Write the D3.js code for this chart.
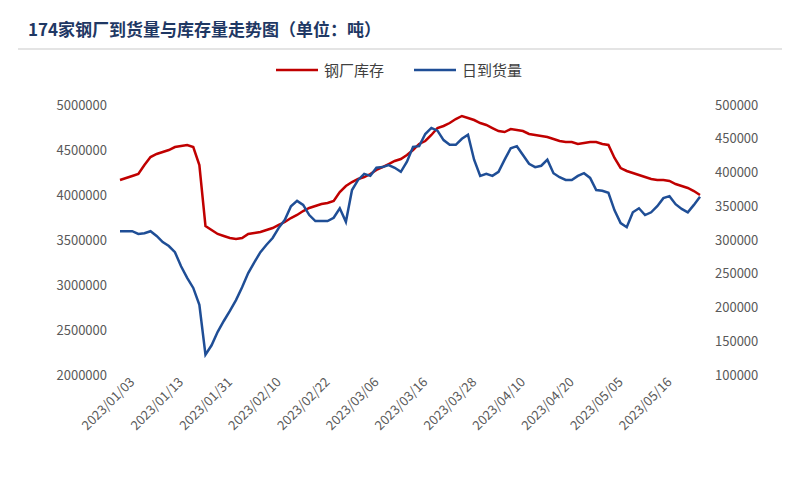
<!DOCTYPE html>
<html><head><meta charset="utf-8">
<script src="https://cdn.jsdelivr.net/npm/d3@7"></script>
<style>body{margin:0;background:#fff}text{font-family:"Noto Sans CJK SC","Liberation Sans",sans-serif}</style>
</head><body><svg id="c" width="800" height="500"></svg>
<script>
const title = "174家钢厂到货量与库存量走势图（单位：吨）";
const seriesNames = ["钢厂库存","日到货量"];
const tickLabels = ["2023/01/03","2023/01/13","2023/01/31","2023/02/10","2023/02/22","2023/03/06","2023/03/16","2023/03/28","2023/04/10","2023/04/20","2023/05/05","2023/05/16"];
// 钢厂库存 (吨, thousands)
const inventoryK = [4167,4189,4211,4233,4333,4422,4456,4478,4500,4533,4544,4556,4533,4333,3656,3611,3567,3544,3522,3511,3522,3567,3578,3589,3611,3633,3667,3700,3744,3778,3822,3856,3878,3900,3911,3933,4033,4100,4144,4178,4200,4233,4278,4311,4344,4378,4400,4444,4500,4567,4600,4667,4744,4767,4800,4844,4878,4856,4833,4800,4778,4744,4711,4700,4733,4722,4711,4678,4667,4656,4644,4622,4600,4589,4589,4567,4578,4589,4589,4567,4556,4411,4300,4267,4244,4222,4200,4178,4167,4167,4156,4122,4100,4078,4044,4000];
// 日到货量 (吨, thousands)
const arrivalK = [313,313,313,309,310,313,306,297,291,282,261,244,229,204,130,144,164,180,195,211,230,251,267,282,293,303,318,330,350,358,352,337,328,328,328,333,347,327,374,389,398,395,407,408,411,407,401,416,438,439,457,466,462,448,441,441,450,456,419,395,398,395,401,419,436,439,426,413,408,410,419,399,393,389,389,395,399,392,374,373,370,344,325,319,341,347,337,341,350,362,365,353,346,341,352,364];
const leftTicks = [2000000,2500000,3000000,3500000,4000000,4500000,5000000];
const rightTicks = [100000,150000,200000,250000,300000,350000,400000,450000,500000];

const svg = d3.select("#c");
svg.append("text").attr("x",28).attr("y",36).attr("fill","#1f3864").attr("font-size",17).attr("font-weight","bold").text(title);
svg.append("line").attr("x1",18).attr("x2",782).attr("y1",49).attr("y2",49).attr("stroke","#c9c9c9");

const n = inventoryK.length;
const x = d3.scaleLinear().domain([0,n-1]).range([120,700]);
const yL = d3.scaleLinear().domain([2000000,5000000]).range([375,105]);
const yR = d3.scaleLinear().domain([100000,500000]).range([375,105]);

const gl = svg.append("g").attr("transform","translate(110,0)")
  .call(d3.axisLeft(yL).tickValues(leftTicks).tickSize(0).tickFormat(d=>d));
const gr = svg.append("g").attr("transform","translate(712,0)")
  .call(d3.axisRight(yR).tickValues(rightTicks).tickSize(0).tickFormat(d=>d));
[gl,gr].forEach(g=>{g.select(".domain").remove();g.selectAll("text").attr("fill","#595959").attr("font-size",13).attr("font-family","Liberation Sans, sans-serif");});

const tickIdx = tickLabels.map((d,i)=>i*8);
const gx = svg.append("g").attr("transform","translate(0,385)")
  .call(d3.axisBottom(x).tickValues(tickIdx).tickSize(0).tickFormat((d,i)=>tickLabels[i]));
gx.select(".domain").remove();
gx.selectAll("text").attr("fill","#595959").attr("font-size",13).attr("font-family","Liberation Sans, sans-serif")
  .attr("text-anchor","end").attr("dx","12").attr("dy","6").attr("transform","rotate(-45)");

const line = (ys, sc) => d3.line().x((d,i)=>x(i)).y(d=>sc(d*1000))(ys);
svg.append("path").attr("d",line(inventoryK,yL)).attr("fill","none").attr("stroke","#c00000").attr("stroke-width",2.5);
svg.append("path").attr("d",line(arrivalK,yR)).attr("fill","none").attr("stroke","#1f4e96").attr("stroke-width",2.5);

// legend
const lg = svg.append("g");
lg.append("line").attr("x1",276).attr("x2",318).attr("y1",70).attr("y2",70).attr("stroke","#c00000").attr("stroke-width",2.5);
lg.append("text").attr("x",324).attr("y",76).attr("font-size",15).attr("fill","#404040").text(seriesNames[0]);
lg.append("line").attr("x1",414).attr("x2",456).attr("y1",70).attr("y2",70).attr("stroke","#1f4e96").attr("stroke-width",2.5);
lg.append("text").attr("x",462).attr("y",76).attr("font-size",15).attr("fill","#404040").text(seriesNames[1]);
</script></body></html>
